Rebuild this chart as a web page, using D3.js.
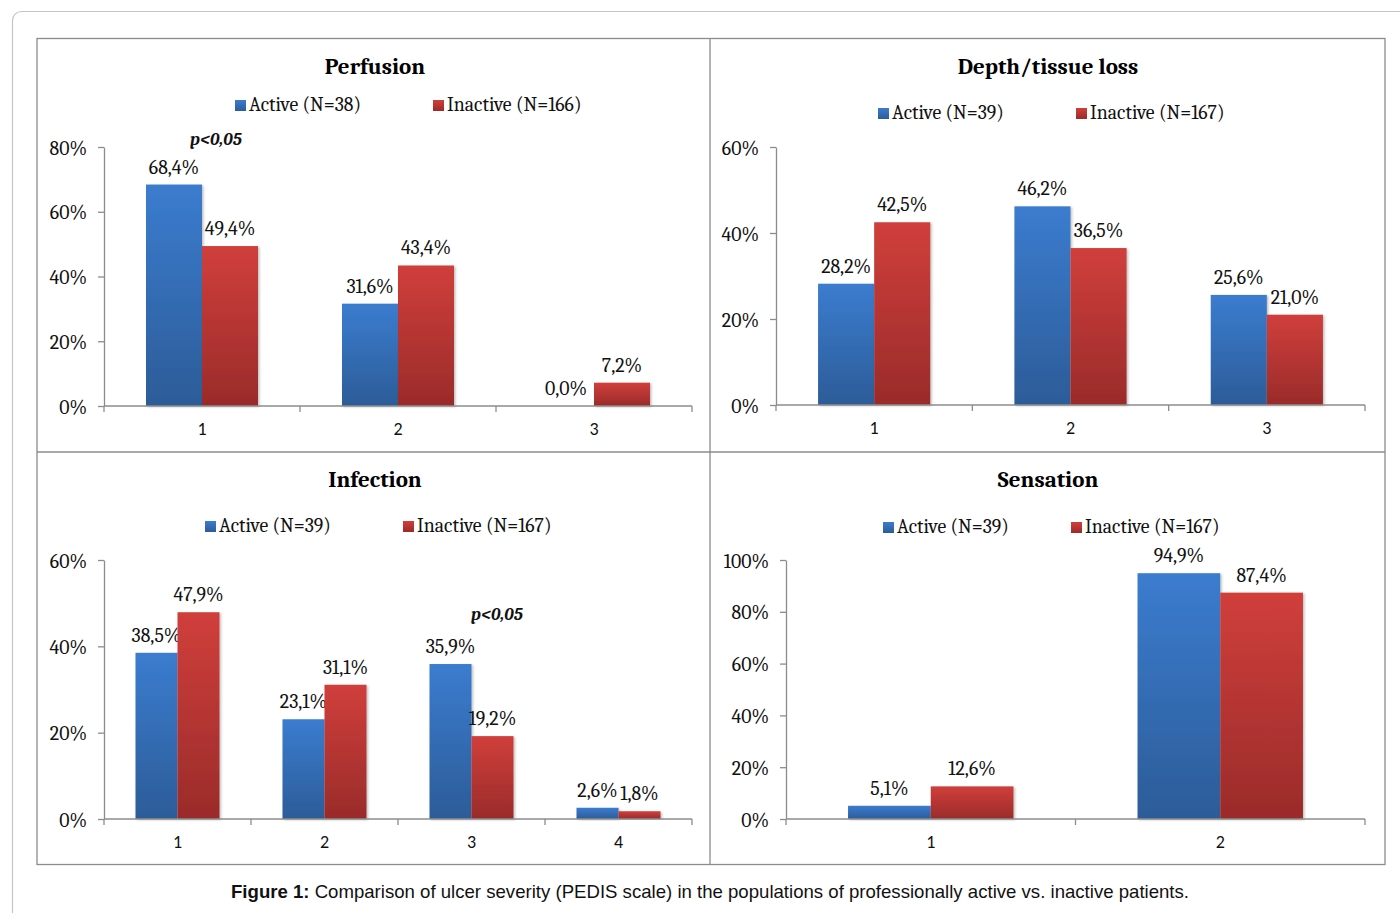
<!DOCTYPE html>
<html>
<head>
<meta charset="utf-8">
<script src="https://cdn.jsdelivr.net/npm/d3@7"></script>
<style>
  html, body { margin: 0; padding: 0; background: #fff; }
  svg { display: block; }
</style>
</head>
<body>
<svg id="fig" width="1400" height="913"></svg>
<script>
// PEDIS scale: share of patients per grade, professionally active vs inactive
const perfusionCats = ["1", "2", "3"];
const perfusionActive = [68.4, 31.6, 0.0];
const perfusionInactive = [49.4, 43.4, 7.2];

const depthCats = ["1", "2", "3"];
const depthActive = [28.2, 46.2, 25.6];
const depthInactive = [42.5, 36.5, 21.0];

const infectionCats = ["1", "2", "3", "4"];
const infectionActive = [38.5, 23.1, 35.9, 2.6];
const infectionInactive = [47.9, 31.1, 19.2, 1.8];

const sensationCats = ["1", "2"];
const sensationActive = [5.1, 94.9];
const sensationInactive = [12.6, 87.4];

const perfusionTicks = [0, 20, 40, 60, 80];
const depthTicks = [0, 20, 40, 60];
const infectionTicks = [0, 20, 40, 60];
const sensationTicks = [0, 20, 40, 60, 80, 100];

const SERIF = "Cambria, 'Liberation Serif', 'DejaVu Serif', serif";
const SANS = "Calibri, Carlito, 'Liberation Sans', Arial, sans-serif";
const LBL = 19.8;

const svg = d3.select("#fig");
const defs = svg.append("defs");

function grad(id, top, bottom) {
  const g = defs.append("linearGradient").attr("id", id)
    .attr("x1", 0).attr("y1", 0).attr("x2", 0).attr("y2", 1);
  g.append("stop").attr("offset", "0%").attr("stop-color", top);
  g.append("stop").attr("offset", "100%").attr("stop-color", bottom);
}
grad("gBlue", "#3b7ccf", "#2c5c98");
grad("gRed", "#d03f3b", "#9a2b2a");

const shadow = defs.append("filter").attr("id", "barShadow")
  .attr("x", "-10%").attr("y", "-10%").attr("width", "130%").attr("height", "120%");
shadow.append("feDropShadow").attr("dx", 1.5).attr("dy", 1).attr("stdDeviation", 1.2)
  .attr("flood-color", "#000").attr("flood-opacity", 0.25);

// outer page frame
svg.append("rect").attr("x", 12.5).attr("y", 11.5).attr("width", 1420).attr("height", 940)
  .attr("rx", 9).attr("fill", "none").attr("stroke", "#c4c4c4").attr("stroke-width", 1.2);

// 2x2 panel grid
const gridX = [37, 710, 1385], gridY = [38.5, 452, 864.5];
svg.append("rect").attr("x", gridX[0]).attr("y", gridY[0])
  .attr("width", gridX[2] - gridX[0]).attr("height", gridY[2] - gridY[0])
  .attr("fill", "none").attr("stroke", "#8c8c8c").attr("stroke-width", 1.3);
svg.append("line").attr("x1", gridX[1]).attr("x2", gridX[1]).attr("y1", gridY[0]).attr("y2", gridY[2])
  .attr("stroke", "#8c8c8c").attr("stroke-width", 1.3);
svg.append("line").attr("x1", gridX[0]).attr("x2", gridX[2]).attr("y1", gridY[1]).attr("y2", gridY[1])
  .attr("stroke", "#8c8c8c").attr("stroke-width", 1.3);

const fmt = v => d3.format(".1f")(v).replace(".", ",") + "%";

function panel(o) {
  const g = svg.append("g");
  const y = d3.scaleLinear().domain([0, d3.max(o.ticks)]).range([o.y0, o.y1]);
  const x0 = d3.scaleBand().domain(o.cats).range([o.xL, o.xR]).paddingInner(0).paddingOuter(0);
  // gap width 150%: two bars plus 1.5 bar widths of gap per category
  const bw = x0.bandwidth() / 3.5;
  const x1s = d3.scaleBand().domain(["a", "i"]).range([bw * 0.75, bw * 2.75]);

  // title
  g.append("text").attr("x", o.titleX).attr("y", o.titleY).attr("text-anchor", "middle")
    .attr("font-family", SERIF).attr("font-weight", "bold").attr("font-size", 23).attr("fill", "#000")
    .text(o.title);

  // legend
  const legend = [{ k: "Active (N=" + o.nA + ")", f: "url(#gBlue)", x: o.legX[0] },
                  { k: "Inactive (N=" + o.nI + ")", f: "url(#gRed)", x: o.legX[1] }];
  legend.forEach(l => {
    g.append("rect").attr("x", l.x).attr("y", o.legY - 11).attr("width", 11).attr("height", 11).attr("fill", l.f);
    g.append("text").attr("x", l.x + 14).attr("y", o.legY).attr("font-family", SERIF).attr("font-size", LBL)
      .attr("fill", "#111").text(l.k);
  });

  // y axis
  const yAxis = d3.axisLeft(y).tickValues(o.ticks).tickFormat(d => d + "%").tickSize(6).tickSizeOuter(0).tickPadding(11);
  const ya = g.append("g").attr("transform", `translate(${o.xL},0)`).call(yAxis);
  ya.select(".domain").attr("stroke", "#8c8c8c").attr("stroke-width", 1.3);
  ya.selectAll(".tick line").attr("stroke", "#8c8c8c").attr("stroke-width", 1.3);
  ya.selectAll(".tick text").attr("font-family", SERIF).attr("font-size", LBL).attr("fill", "#111").attr("dy", "0.36em");

  // bars
  const rows = o.cats.map((c, i) => ({ c, a: o.act[i], n: o.inact[i] }));
  const cg = g.selectAll(".cat").data(rows).enter().append("g").attr("transform", d => `translate(${x0(d.c)},0)`);
  [["a", "url(#gBlue)"], ["n", "url(#gRed)"]].forEach(([k, f]) => {
    const key = k === "a" ? "a" : "i";
    cg.filter(d => d[k] > 0).append("rect")
      .attr("x", x1s(key)).attr("width", x1s.bandwidth())
      .attr("y", d => y(d[k])).attr("height", d => y(0) - y(d[k]))
      .attr("fill", f).attr("filter", "url(#barShadow)");
    cg.append("text")
      .attr("x", x1s(key) + x1s.bandwidth() / 2)
      .attr("y", d => y(d[k]) - 11)
      .attr("text-anchor", "middle").attr("font-family", SERIF).attr("font-size", LBL).attr("fill", "#111")
      .text(d => fmt(d[k]));
  });

  // x axis
  const xAxis = d3.axisBottom(x0).tickSize(0).tickPadding(16);
  const xa = g.append("g").attr("transform", `translate(0,${o.y0})`).call(xAxis);
  xa.select(".domain").attr("stroke", "#8c8c8c").attr("stroke-width", 1.3).attr("d", `M${o.xL},0H${o.xR}`);
  xa.selectAll(".tick text").attr("font-family", SANS).attr("font-size", 18).attr("fill", "#111");
  // category boundary tick marks
  const bounds = o.cats.map(c => x0(c)).concat([o.xR]);
  xa.selectAll(".bound").data(bounds).enter().append("line")
    .attr("x1", d => d).attr("x2", d => d).attr("y1", 0).attr("y2", 6)
    .attr("stroke", "#8c8c8c").attr("stroke-width", 1.3);

  // significance note
  if (o.p) {
    g.append("text").attr("x", o.p[0]).attr("y", o.p[1]).attr("text-anchor", "middle")
      .attr("font-family", SERIF).attr("font-style", "italic").attr("font-weight", "bold")
      .attr("font-size", 17.5).attr("fill", "#111").text("p<0,05");
  }
}

panel({ title: "Perfusion", titleX: 375, titleY: 74, nA: 38, nI: 166, legX: [235, 433], legY: 111,
        cats: perfusionCats, act: perfusionActive, inact: perfusionInactive, ticks: perfusionTicks,
        xL: 104, xR: 692, y0: 406, y1: 147, p: [216, 145] });
panel({ title: "Depth/tissue loss", titleX: 1048, titleY: 74, nA: 39, nI: 167, legX: [878, 1076], legY: 119,
        cats: depthCats, act: depthActive, inact: depthInactive, ticks: depthTicks,
        xL: 776, xR: 1365, y0: 405, y1: 147 });
panel({ title: "Infection", titleX: 375, titleY: 487, nA: 39, nI: 167, legX: [205, 403], legY: 532,
        cats: infectionCats, act: infectionActive, inact: infectionInactive, ticks: infectionTicks,
        xL: 104, xR: 692, y0: 819, y1: 560, p: [497, 620] });
panel({ title: "Sensation", titleX: 1048, titleY: 487, nA: 39, nI: 167, legX: [883, 1071], legY: 533,
        cats: sensationCats, act: sensationActive, inact: sensationInactive, ticks: sensationTicks,
        xL: 786, xR: 1365, y0: 819, y1: 560 });

// caption
const cap = svg.append("text").attr("x", 710).attr("y", 898).attr("text-anchor", "middle")
  .attr("font-family", "'Liberation Sans', Arial, sans-serif").attr("font-size", 18.6).attr("fill", "#111");
cap.append("tspan").attr("font-weight", "bold").text("Figure 1:");
cap.append("tspan").text(" Comparison of ulcer severity (PEDIS scale) in the populations of professionally active vs. inactive patients.");
</script>
</body>
</html>
